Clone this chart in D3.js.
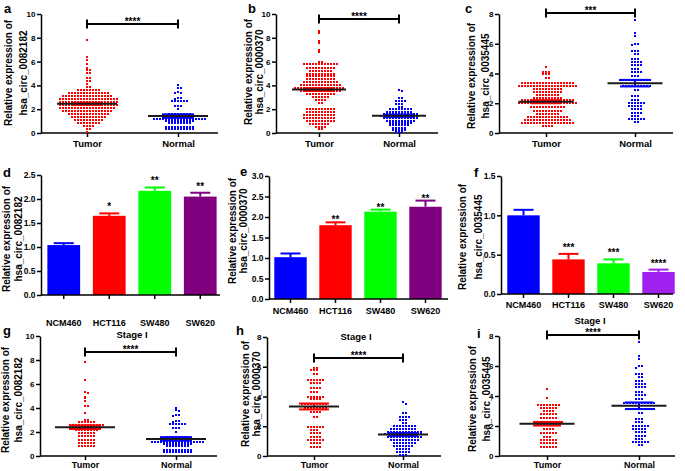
<!DOCTYPE html>
<html><head><meta charset="utf-8">
<script src="https://cdn.jsdelivr.net/npm/d3@7"></script>
<style>
body{margin:0;background:#fff}
svg{display:block}
text{font-family:"Liberation Sans",Arial,sans-serif;font-weight:bold;fill:#000}
</style>
</head><body>
<svg id="chart" width="685" height="471"></svg>
<script>
// ---------------- DATA ----------------
const groups = ["Tumor", "Normal"];
const cellLines = ["NCM460", "HCT116", "SW480", "SW620"];

// hsa_circ_0082182 (panel a, all patients)
const tumor_0082182 = [7.8,6.35,6.15,5.8,5.5,5.3,5.3,5.05,5.05,4.65,4.65,4.4,4.4,4.1,3.85,3.85,
3.6,3.6,3.6,3.6,3.6,3.6,3.6,3.6,
3.35,3.35,3.35,3.35,3.35,3.35,3.35,3.35,3.35,3.35,3.35,3.35,3.35,3.35,
3.1,3.1,3.1,3.1,3.1,3.1,3.1,3.1,3.1,3.1,3.1,3.1,3.1,3.1,3.1,3.1,3.1,
2.85,2.85,2.85,2.85,2.85,2.85,2.85,2.85,2.85,2.85,2.85,2.85,2.85,2.85,2.85,2.85,2.85,2.85,2.85,2.85,
2.6,2.6,2.6,2.6,2.6,2.6,2.6,2.6,2.6,2.6,2.6,2.6,2.6,2.6,2.6,2.6,2.6,2.6,2.6,2.6,
2.35,2.35,2.35,2.35,2.35,2.35,2.35,2.35,2.35,2.35,2.35,2.35,2.35,2.35,2.35,2.35,2.35,2.35,2.35,2.35,
2.1,2.1,2.1,2.1,2.1,2.1,2.1,2.1,2.1,2.1,2.1,2.1,2.1,2.1,2.1,2.1,2.1,2.1,2.1,
1.85,1.85,1.85,1.85,1.85,1.85,1.85,1.85,1.85,1.85,1.85,1.85,1.85,1.85,1.85,1.85,1.85,
1.6,1.6,1.6,1.6,1.6,1.6,1.6,1.6,1.6,1.6,1.6,1.6,1.6,1.6,
1.35,1.35,1.35,1.35,1.35,1.35,1.35,1.35,1.35,1.35,1.35,1.35,
1.1,1.1,1.1,1.1,1.1,1.1,1.1,1.1,1.1,1.1,
0.85,0.85,0.85,0.85,0.85,0.85,0.85,0.85,
0.6,0.6,0.6,0.6,0.35,0.35,0.1];
const normal_0082182 = [4.0,3.8,3.75,3.45,3.4,3.35,2.9,2.9,2.85,
2.65,2.65,2.65,2.65,2.65,2.65,2.3,2.3,2.3,2.0,
1.6,1.6,1.6,1.6,1.6,1.6,1.6,1.6,
1.4,1.4,1.4,1.4,1.4,1.4,1.4,1.4,1.4,1.4,1.4,1.4,1.4,1.4,1.4,1.4,1.4,1.4,
1.2,1.2,1.2,1.2,1.2,1.2,1.2,1.2,1.2,1.2,1.2,1.2,1.2,1.2,1.2,1.2,1.2,1.2,
1.0,1.0,1.0,1.0,1.0,1.0,1.0,1.0,1.0,1.0,
0.8,0.8,0.8,0.8,0.8,0.8,0.8,0.8,
0.5,0.5,0.5,0.5,0.5,0.5,0.5,0.5,0.5,0.5,
0.3,0.3,0.3,0.3,0.3,0.3,0.3,0.3,0.3,0.3];

// hsa_circ_0000370 (panel b)
const tumor_0000370 = [8.6,8.4,7.75,7.6,6.95,6.8,6.0,6.0,
5.8,5.8,5.8,5.8,5.8,5.8,5.8,5.8,5.8,5.8,5.8,5.8,
5.5,5.5,5.5,5.5,5.5,5.5,5.5,5.5,5.5,5.5,
5.25,5.25,5.25,5.25,5.25,5.25,5.25,5.25,
5.0,5.0,5.0,5.0,5.0,5.0,5.0,5.0,5.0,5.0,
4.75,4.75,4.75,4.75,4.75,4.75,4.75,4.75,4.75,4.75,
4.5,4.5,4.5,4.5,4.5,4.5,4.5,4.5,4.5,4.5,
4.25,4.25,4.25,4.25,4.25,4.25,4.25,4.25,4.25,4.25,4.25,4.25,
4.0,4.0,4.0,4.0,4.0,4.0,4.0,4.0,4.0,4.0,4.0,4.0,4.0,4.0,
3.75,3.75,3.75,3.75,3.75,3.75,3.75,3.75,3.75,3.75,3.75,3.75,3.75,3.75,3.75,3.75,3.75,
3.5,3.5,3.5,3.5,3.5,3.5,3.5,3.5,3.5,3.5,3.5,3.5,3.5,3.5,
3.25,3.25,3.25,3.25,3.25,3.25,3.25,3.25,3.25,3.25,
3.0,3.0,3.0,3.0,3.0,3.0,2.75,2.75,2.75,2.75,2.5,2.5,
2.0,2.0,2.0,2.0,2.0,2.0,2.0,2.0,2.0,2.0,
1.75,1.75,1.75,1.75,1.75,1.75,1.75,1.75,1.75,1.75,
1.5,1.5,1.5,1.5,1.5,1.5,1.5,1.5,1.5,1.5,1.5,
1.25,1.25,1.25,1.25,1.25,1.25,1.25,1.25,1.25,1.25,1.25,
1.0,1.0,1.0,1.0,1.0,1.0,1.0,1.0,1.0,1.0,
0.75,0.75,0.75,0.75,0.75,0.75,0.75,
0.5,0.5,0.5,0.5,0.3,0.3];
const normal_0000370 = [3.6,3.5,2.9,2.9,2.65,2.65,2.65,2.65,2.45,2.45,2.45,2.2,2.2,
2.0,2.0,2.0,2.0,2.0,2.0,2.0,2.0,
1.8,1.8,1.8,1.8,1.8,1.8,1.8,1.8,1.8,
1.6,1.6,1.6,1.6,1.6,1.6,1.6,1.6,1.6,1.6,1.6,1.6,
1.45,1.45,1.45,1.45,1.45,1.45,1.45,1.45,1.45,1.45,1.45,1.45,1.45,
1.25,1.25,1.25,1.25,1.25,1.25,1.25,1.25,1.25,1.25,1.25,1.25,
1.05,1.05,1.05,1.05,1.05,1.05,1.05,1.05,1.05,1.05,
0.85,0.85,0.85,0.85,0.85,0.85,0.85,0.85,
0.65,0.65,0.65,0.65,0.65,0.65,0.65,
0.45,0.45,0.45,0.45,0.45,0.25,0.25,0.25,0.25,0.25,0.1,0.1,0.1];

// hsa_circ_0035445 (panel c)
const tumor_0035445 = [4.45,4.1,4.1,4.1,3.95,3.95,3.95,3.7,3.7,
3.35,3.35,3.35,3.35,3.35,3.35,3.35,3.35,3.35,3.35,3.35,3.35,3.35,3.35,3.35,3.35,3.35,3.35,
3.15,3.15,3.15,3.15,3.15,3.15,3.15,3.15,3.15,3.15,3.15,3.15,3.15,3.15,3.15,3.15,3.15,3.15,3.15,3.15,
2.95,2.95,2.95,2.95,2.95,2.95,2.95,2.95,2.95,2.95,
2.75,2.75,2.75,2.75,2.75,2.75,2.75,2.75,2.75,2.75,
2.55,2.55,2.55,2.55,2.55,2.55,2.55,2.55,
2.35,2.35,2.35,2.35,2.35,2.35,2.35,2.35,2.35,2.35,
2.2,2.2,2.2,2.2,2.2,2.2,2.2,2.2,2.2,2.2,2.2,2.2,2.2,2.2,2.2,2.2,2.2,2.2,
2.05,2.05,2.05,2.05,2.05,2.05,2.05,2.05,2.05,2.05,2.05,2.05,2.05,2.05,2.05,2.05,2.05,2.05,2.05,2.05,
1.75,1.75,1.75,1.75,1.75,1.75,1.75,1.75,1.75,1.75,1.75,1.75,
1.5,1.5,1.5,1.5,1.5,1.5,1.5,1.5,1.5,1.5,
1.25,1.25,1.25,1.25,1.25,1.25,1.25,1.25,
1.05,1.05,1.05,1.05,1.05,1.05,1.05,1.05,1.05,1.05,1.05,1.05,1.05,1.05,
0.85,0.85,0.85,0.85,0.85,0.85,0.85,0.85,0.85,0.85,0.85,0.85,0.85,0.85,0.85,0.85,
0.65,0.65,0.65,0.65,0.65,0.65,0.65,0.65,0.65,0.65,0.65,0.65,0.65,0.65,0.65,0.65,0.65,0.65,
0.45,0.45,0.45,0.45];
const normal_0035445 = [7.6,6.7,6.5,6.0,6.0,5.9,5.5,5.5,5.5,5.3,5.3,5.0,5.0,5.0,
4.8,4.8,4.8,4.8,4.6,4.6,4.6,4.6,4.3,4.3,4.3,4.1,4.1,4.1,4.1,3.8,3.8,3.8,
3.55,3.55,3.55,3.55,3.55,3.55,3.55,3.55,3.55,3.55,3.55,
3.15,3.15,3.15,3.15,3.15,3.15,3.15,3.15,3.15,3.15,
2.9,2.9,2.5,2.5,2.5,2.25,2.25,2.25,2.0,2.0,2.0,2.0,2.0,2.0,
1.8,1.8,1.8,1.8,1.8,1.6,1.6,1.6,1.6,1.35,1.35,1.35,1.35,1.15,1.15,1.15,
0.95,0.95,0.95,0.95,0.95,0.95,0.75,0.75];

// Stage I tumours (panels g, h, i)
const tumorStageI_0082182 = [7.85,6.35,5.35,5.25,4.95,4.8,4.55,4.2,4.2,3.6,3.0,3.0,
2.85,2.85,2.85,2.85,2.85,2.85,
2.6,2.6,2.6,2.6,2.6,2.6,2.6,2.6,2.6,2.6,2.6,2.6,
2.4,2.4,2.4,2.4,2.4,2.4,2.4,2.4,2.4,2.4,
2.2,2.2,2.2,2.2,2.2,2.2,2.2,2.2,
1.95,1.95,1.95,1.95,1.95,1.95,1.65,1.65,1.65,1.65,1.65,1.65,
1.35,1.35,1.35,1.35,1.35,1.35,1.1,1.1,1.1,1.1,1.1,1.1,
0.85,0.85,0.85,0.85,0.85,0.85];
const tumorStageI_0000370 = [5.9,5.9,5.75,5.75,5.75,5.5,5.5,
5.1,5.1,5.1,5.1,5.1,5.1,4.9,4.9,4.9,4.9,4.6,4.6,4.6,4.6,4.3,4.3,4.3,
4.0,4.0,4.0,4.0,4.0,4.0,3.8,3.8,3.8,3.8,
3.5,3.5,3.5,3.5,3.5,3.5,3.5,3.5,3.5,
3.2,3.2,3.2,3.2,3.2,3.2,3.2,3.2,2.95,2.95,2.95,2.95,2.6,2.6,
1.95,1.95,1.95,1.95,1.95,1.95,1.75,1.75,1.75,1.55,1.55,1.55,1.55,
1.3,1.3,1.3,1.3,1.05,1.05,1.05,1.05,1.05,1.05,0.85,0.85,0.85,0.85,0.6,0.6,0.6,0.6];
const tumorStageI_0035445 = [4.45,3.85,3.4,3.4,3.4,3.4,3.4,3.4,3.4,3.4,
3.2,3.2,3.2,3.2,3.2,3.2,3.0,3.0,3.0,3.0,2.8,2.8,2.8,2.8,2.8,2.8,
2.55,2.55,2.55,2.55,2.55,2.55,
2.25,2.25,2.25,2.25,2.25,2.25,2.25,2.25,2.25,2.25,
2.05,2.05,2.05,2.05,2.05,2.05,2.05,2.05,
1.8,1.8,1.8,1.8,1.55,1.55,1.55,1.55,1.55,1.55,1.3,1.3,1.3,
1.05,1.05,1.05,1.05,1.05,1.05,0.85,0.85,0.85,0.85,0.85,0.85,
0.6,0.6,0.6,0.6,0.6,0.6];

// Mean and SEM: [Tumor, Normal]
const mean_a = [2.45, 1.42], sem_a = [0.10, 0.15];
const mean_b = [3.65, 1.45], sem_b = [0.12, 0.10];
const mean_c = [2.10, 3.35], sem_c = [0.10, 0.22];
const mean_g = [2.40, 1.42], sem_g = [0.15, 0.15];
const mean_h = [3.33, 1.45], sem_h = [0.20, 0.10];
const mean_i = [2.15, 3.35], sem_i = [0.12, 0.22];

// Cell-line bars (panels d, e, f)
const bars_d = [1.04, 1.65, 2.17, 2.05], err_d = [0.04, 0.05, 0.07, 0.08];
const bars_e = [1.02, 1.80, 2.13, 2.25], err_e = [0.09, 0.07, 0.05, 0.15];
const bars_f = [1.00, 0.44, 0.39, 0.28], err_f = [0.07, 0.07, 0.05, 0.03];
const stars_d = ["", "*", "**", "**"];
const stars_e = ["", "**", "**", "**"];
const stars_f = ["", "***", "***", "****"];

const ticks_10 = [0, 2, 4, 6, 8, 10];
const ticks_8 = [0, 2, 4, 6, 8];
const ticks_d = [0, 0.5, 1.0, 1.5, 2.0, 2.5];
const ticks_e = [0, 0.5, 1.0, 1.5, 2.0, 2.5, 3.0];
const ticks_f = [0, 0.5, 1.0, 1.5];

// ---------------- DRAWING ----------------
const svg = d3.select("#chart");
const RED = "#ff0000", BLUE = "#0000ff";

function styleAxis(sel){
  sel.selectAll("path,line").attr("stroke","#000").attr("stroke-width",1.5);
  sel.selectAll("text").style("font-size","8px").style("font-weight","bold")
     .style("font-family","'Liberation Sans',Arial,sans-serif").attr("fill","#000");
}

function yTitle(g, cfg, line2){
  g.append("text").attr("transform",`translate(${cfg.t1x},${cfg.ty}) rotate(-90)`)
    .attr("text-anchor","middle").style("font-size","10px").text("Relative expression of");
  g.append("text").attr("transform",`translate(${cfg.t2x},${cfg.ty}) rotate(-90)`)
    .attr("text-anchor","middle").style("font-size","10px").text(line2);
}

function swarm(values, cx, y){
  const pts = values.map(v => ({v, y: y(v)})).sort((a,b)=>a.y-b.y);
  const placed = [];
  pts.forEach(p => {
    for (let k = 0; k < 200; k++){
      const off = k === 0 ? 0 : (k % 2 ? 1 : -1) * Math.ceil(k/2) * 3;
      const x = cx + off;
      if (!placed.some(q => Math.abs(q.x - x) < 2.8 && Math.abs(q.y - p.y) < 1.6)){
        p.x = x; placed.push(p); break;
      }
    }
  });
  return placed;
}

function scatterPanel(cfg){
  const g = svg.append("g");
  const y = d3.scaleLinear().domain([0, cfg.ymax]).range([cfg.y0, cfg.y1]);
  const x = d3.scalePoint().domain(groups).range([cfg.xT, cfg.xN]);

  const ya = g.append("g").attr("transform",`translate(${cfg.ax},0)`)
    .call(d3.axisLeft(y).tickValues(cfg.ticks).tickSize(4).tickSizeOuter(0).tickPadding(1.5));
  styleAxis(ya);
  const xa = g.append("g").attr("transform",`translate(0,${cfg.y0})`)
    .call(d3.axisBottom(x).tickSize(4).tickSizeOuter(0).tickPadding(cfg.catPad));
  xa.select(".domain").remove();
  styleAxis(xa);
  xa.selectAll("text").style("font-size", cfg.catSize || "9.5px");
  g.append("line").attr("x1",cfg.ax).attr("x2",cfg.xEnd).attr("y1",cfg.y0).attr("y2",cfg.y0)
    .attr("stroke","#000").attr("stroke-width",1.5);

  [cfg.tumor, cfg.normal].forEach((vals, gi) => {
    const col = gi === 0 ? RED : BLUE;
    const pts = swarm(vals, x(groups[gi]), y);
    g.append("g").attr("shape-rendering","crispEdges").selectAll("rect").data(pts).join("rect")
      .attr("x", d => Math.round(d.x - 1)).attr("y", d => Math.round(d.y - 1))
      .attr("width", 2).attr("height", 2).attr("fill", col);
    const m = cfg.mean[gi], s = cfg.sem[gi], cx = x(groups[gi]);
    const cw = cfg.capW / 2, mw = cfg.meanW / 2;
    g.append("line").attr("x1",cx).attr("x2",cx).attr("y1",y(m-s)).attr("y2",y(m+s))
      .attr("stroke",col).attr("stroke-width",2);
    [m - s, m + s].forEach(v => g.append("line").attr("x1",cx-cw).attr("x2",cx+cw)
      .attr("y1",y(v)).attr("y2",y(v)).attr("stroke",col).attr("stroke-width",2));
    g.append("line").attr("x1",cx-mw).attr("x2",cx+mw).attr("y1",y(m)).attr("y2",y(m))
      .attr("stroke","#1a1a1a").attr("stroke-width",2);
  });

  // significance bar
  const x1 = x("Tumor"), x2 = x("Normal");
  g.append("line").attr("x1",x1).attr("x2",x2).attr("y1",cfg.sigY).attr("y2",cfg.sigY)
    .attr("stroke","#000").attr("stroke-width",2);
  [x1, x2].forEach(xx => g.append("line").attr("x1",xx).attr("x2",xx)
    .attr("y1",cfg.sigY-4.5).attr("y2",cfg.sigY+4.5).attr("stroke","#000").attr("stroke-width",2));
  g.append("text").attr("x",(x1+x2)/2).attr("y",cfg.sigY+0.5).attr("text-anchor","middle")
    .style("font-size","10px").text(cfg.stars);

  if (cfg.stage) g.append("text").attr("x",cfg.stage[0]).attr("y",cfg.stage[1])
    .attr("text-anchor","middle").style("font-size","9.5px").text("Stage I");

  g.append("text").attr("x",cfg.lx).attr("y",cfg.ly).style("font-size","13px").text(cfg.label);
  yTitle(g, cfg, cfg.title2);
}

function barPanel(cfg){
  const g = svg.append("g");
  const y = d3.scaleLinear().domain([0, cfg.ymax]).range([cfg.y0, cfg.y1]);
  const x = d3.scaleBand().domain(cellLines).range(cfg.xr).paddingInner(0.28).paddingOuter(0.14);

  g.selectAll("rect.bar").data(cellLines).join("rect").attr("class","bar")
    .attr("x", d => x(d)).attr("width", x.bandwidth())
    .attr("y", (d,i) => y(cfg.vals[i])).attr("height", (d,i) => cfg.y0 - y(cfg.vals[i]))
    .attr("fill", (d,i) => cfg.colors[i]);
  cellLines.forEach((c, i) => {
    const cx = x(c) + x.bandwidth()/2, top = y(cfg.vals[i] + cfg.errs[i]);
    g.append("line").attr("x1",cx).attr("x2",cx).attr("y1",y(cfg.vals[i])).attr("y2",top)
      .attr("stroke",cfg.colors[i]).attr("stroke-width",2);
    g.append("line").attr("x1",cx-10).attr("x2",cx+10).attr("y1",top).attr("y2",top)
      .attr("stroke",cfg.colors[i]).attr("stroke-width",2);
    if (cfg.stars[i]) g.append("text").attr("x",cx).attr("y",top + cfg.starOff)
      .attr("text-anchor","middle").style("font-size","10px").text(cfg.stars[i]);
  });

  const ya = g.append("g").attr("transform",`translate(${cfg.ax},0)`)
    .call(d3.axisLeft(y).tickValues(cfg.ticks).tickFormat(d3.format(".1f")).tickSize(4).tickSizeOuter(0).tickPadding(1.5));
  styleAxis(ya);
  ya.selectAll("text").style("font-size","8.5px");
  const xa = g.append("g").attr("transform",`translate(0,${cfg.y0})`)
    .call(d3.axisBottom(x).tickSize(4).tickSizeOuter(0).tickPadding(cfg.catPad));
  xa.select(".domain").remove();
  styleAxis(xa);
  xa.selectAll("text").style("font-size","9px");
  g.append("line").attr("x1",cfg.ax).attr("x2",cfg.xEnd).attr("y1",cfg.y0).attr("y2",cfg.y0)
    .attr("stroke","#000").attr("stroke-width",1.5);

  g.append("text").attr("x",cfg.lx).attr("y",cfg.ly).style("font-size","13px").text(cfg.label);
  yTitle(g, cfg, cfg.title2);
}

scatterPanel({label:"a", lx:4, ly:12.5, ax:41, xEnd:218, y0:133, y1:14, ymax:10, ticks:ticks_10,
  xT:87, xN:178, sigY:24, stars:"****", tumor:tumor_0082182, normal:normal_0082182,
  mean:mean_a, sem:sem_a, meanW:60, capW:32, catPad:3.5, t1x:11.5, t2x:27, ty:73, title2:"hsa_circ_0082182"});
scatterPanel({label:"b", lx:248, ly:12.5, ax:276, xEnd:438, y0:133, y1:14, ymax:10, ticks:ticks_10,
  xT:319, xN:399, sigY:19, stars:"****", tumor:tumor_0000370, normal:normal_0000370,
  mean:mean_b, sem:sem_b, meanW:54, capW:30, catPad:3.5, t1x:252, t2x:262.5, ty:72, title2:"hsa_circ_0000370"});
scatterPanel({label:"c", lx:465, ly:12.5, ax:499, xEnd:673, y0:133, y1:14, ymax:8, ticks:ticks_8,
  xT:546, xN:635, sigY:13, stars:"***", tumor:tumor_0035445, normal:normal_0035445,
  mean:mean_c, sem:sem_c, meanW:55, capW:30, catPad:3.5, t1x:474.5, t2x:489, ty:76, title2:"hsa_circ_0035445"});

barPanel({label:"d", lx:3, ly:177, ax:41, xEnd:220, xr:[41,223], y0:295, y1:175, ymax:2.5, ticks:ticks_d,
  vals:bars_d, errs:err_d, stars:stars_d, starOff:-3, colors:["#0000ff","#ff0000","#00ff00","#800080"],
  catPad:20.5, t1x:9.5, t2x:22, ty:239, title2:"hsa_circ_0082182"});
barPanel({label:"e", lx:240, ly:176, ax:269, xEnd:448, xr:[268,448], y0:299, y1:176, ymax:3, ticks:ticks_e,
  vals:bars_e, errs:err_e, stars:stars_e, starOff:1, colors:["#0000ff","#ff0000","#00ff00","#800080"],
  catPad:4.5, t1x:235.5, t2x:246.5, ty:231, title2:"hsa_circ_0000370"});
barPanel({label:"f", lx:474, ly:177, ax:501, xEnd:673, xr:[501,681], y0:294, y1:176, ymax:1.5, ticks:ticks_f,
  vals:bars_f, errs:err_f, stars:stars_f, starOff:-3, colors:["#0000ff","#ff0000","#00ff00","#a020f0"],
  catPad:3.5, t1x:465.5, t2x:481.5, ty:237, title2:"hsa_circ_0035445"});

scatterPanel({label:"g", lx:3, ly:335, ax:40, xEnd:217, y0:456, y1:336, ymax:10, ticks:ticks_10,
  xT:85, xN:176, sigY:352, stars:"****", tumor:tumorStageI_0082182, normal:normal_0082182,
  mean:mean_g, sem:sem_g, meanW:60, capW:32, catPad:2, catSize:"9px", stage:[132,338], t1x:8.5, t2x:22, ty:400, title2:"hsa_circ_0082182"});
scatterPanel({label:"h", lx:236, ly:335, ax:267, xEnd:441, y0:456, y1:337, ymax:8, ticks:ticks_8,
  xT:314, xN:403, sigY:358, stars:"****", tumor:tumorStageI_0000370, normal:normal_0000370,
  mean:mean_h, sem:sem_h, meanW:50, capW:30, catPad:2, catSize:"9px", stage:[356,340], t1x:248.5, t2x:260, ty:394, title2:"hsa_circ_0000370"});
scatterPanel({label:"i", lx:477, ly:338, ax:499, xEnd:675, y0:456, y1:336, ymax:8, ticks:ticks_8,
  xT:547, xN:639, sigY:335, stars:"****", tumor:tumorStageI_0035445, normal:normal_0035445,
  mean:mean_i, sem:sem_i, meanW:55, capW:28, catPad:2, catSize:"9px", stage:[590,324], t1x:476, t2x:489.5, ty:399, title2:"hsa_circ_0035445"});
</script>
</body></html>
